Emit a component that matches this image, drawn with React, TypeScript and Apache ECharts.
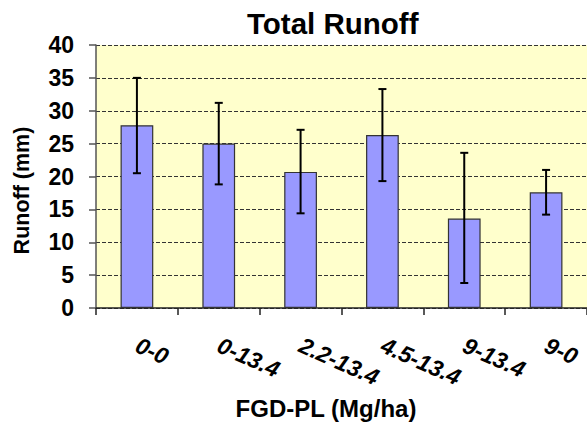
import React, { useEffect, useRef } from "react";
import * as echarts from "echarts";

const categories = ["0-0", "0-13.4", "2.2-13.4", "4.5-13.4", "9-13.4", "9-0"];
const runoff = [27.8, 25.0, 20.7, 26.3, 13.6, 17.6];
const errLow = [20.5, 18.8, 14.4, 19.3, 3.8, 14.2];
const errHigh = [35.0, 31.2, 27.1, 33.3, 23.6, 21.0];
const yTicks = { min: 0, max: 40, interval: 5 };

const FONT = "Arial, 'Liberation Sans', sans-serif";

export default function App() {
  const ref = useRef<HTMLDivElement>(null);
  useEffect(() => {
    if (!ref.current) return;
    const chart = echarts.init(ref.current, null, { renderer: "svg" });
    const errData = categories.map((_, i) => [i, errLow[i], errHigh[i]]);
    chart.setOption({
      animation: false,
      backgroundColor: "#ffffff",
      title: {
        text: "Total Runoff",
        left: 247,
        top: 8,
        padding: 0,
        textStyle: { fontFamily: FONT, fontSize: 29.5, fontWeight: "bold", color: "#000" },
      },
      grid: {
        left: 96,
        right: -3,
        top: 45,
        bottom: 123,
        show: true,
        backgroundColor: "#FFFFCC",
        borderWidth: 0,
      },
      xAxis: {
        type: "category",
        data: categories,
        name: "FGD-PL (Mg/ha)",
        nameLocation: "middle",
        nameGap: 88,
        nameTextStyle: {
          fontFamily: FONT,
          fontSize: 24,
          fontWeight: "bold",
          color: "#000",
          padding: [0, 31, 0, 0],
        },
        axisLine: { show: true, lineStyle: { color: "#222", width: 1.5 } },
        axisTick: { show: true, length: 7, lineStyle: { color: "#222", width: 1.5 } },
        axisLabel: {
          rotate: -24,
          margin: 36,
          fontFamily: FONT,
          fontSize: 23,
          fontWeight: "bold",
          fontStyle: "italic",
          color: "#000",
          interval: 0,
        },
        splitLine: { show: false },
      },
      yAxis: {
        type: "value",
        min: yTicks.min,
        max: yTicks.max,
        interval: yTicks.interval,
        name: "Runoff (mm)",
        nameLocation: "middle",
        nameGap: 63,
        nameTextStyle: {
          fontFamily: FONT,
          fontSize: 21.5,
          fontWeight: "bold",
          color: "#000",
          padding: [0, 28, 0, 0],
        },
        axisLine: { show: true, lineStyle: { color: "#555", width: 1.5 } },
        axisTick: { show: true, length: 7, lineStyle: { color: "#555", width: 1.5 } },
        axisLabel: {
          margin: 22,
          fontFamily: FONT,
          fontSize: 23,
          fontWeight: "bold",
          color: "#000",
        },
        splitLine: { show: true, lineStyle: { color: "#333", type: [4, 2], width: 1 } },
      },
      series: [
        {
          type: "bar",
          data: runoff,
          barWidth: "40%",
          itemStyle: { color: "#9999FF", borderColor: "#333", borderWidth: 1.2 },
          z: 2,
        },
        {
          type: "custom",
          data: errData,
          encode: { x: 0, y: [1, 2] },
          z: 3,
          renderItem: (params: any, api: any) => {
            const idx = api.value(0);
            const lo = api.coord([idx, api.value(1)]);
            const hi = api.coord([idx, api.value(2)]);
            const hw = 4;
            const style = { stroke: "#000", lineWidth: 2 };
            return {
              type: "group",
              children: [
                { type: "line", shape: { x1: hi[0], y1: hi[1], x2: lo[0], y2: lo[1] }, style },
                { type: "line", shape: { x1: hi[0] - hw, y1: hi[1], x2: hi[0] + hw, y2: hi[1] }, style },
                { type: "line", shape: { x1: lo[0] - hw, y1: lo[1], x2: lo[0] + hw, y2: lo[1] }, style },
              ],
            };
          },
        },
      ],
    });
    return () => chart.dispose();
  }, []);
  return (
    <div
      ref={ref}
      style={{ position: "fixed", left: 0, top: 0, width: 587, height: 431 }}
    />
  );
}
